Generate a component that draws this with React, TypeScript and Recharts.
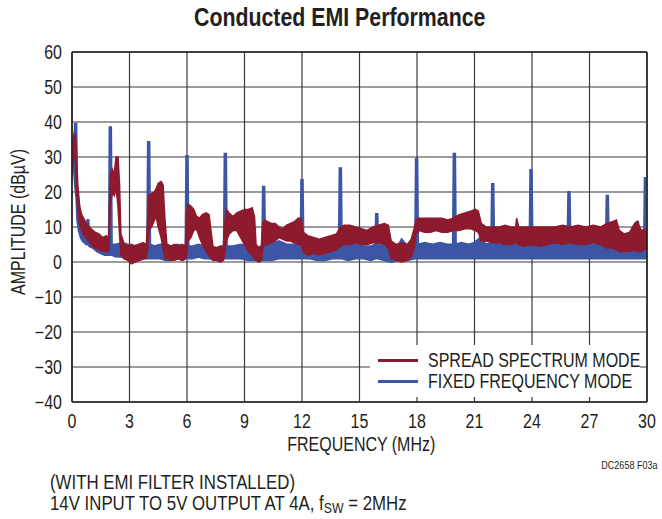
import React from 'react'
import {
  ComposedChart, Area, XAxis, YAxis, CartesianGrid, ReferenceLine,
} from 'recharts'

// no condensed face installed, so Liberation Sans gets squeezed horizontally
const FONT = "'Liberation Sans', Arial, sans-serif"
const SQUEEZE = 0.82
const INK = '#231f20'
const RED = '#8d1b2d'
const BLUE = '#3c56a5'
const FS = 19.5

const xTicks = [0, 3, 6, 9, 12, 15, 18, 21, 24, 27, 30]
const yTicks = [-40, -30, -20, -10, 0, 10, 20, 30, 40, 50, 60]

// spread spectrum mode: band envelope (low / high edge, dBµV) vs MHz
const spreadFreq = [
  0, 0.08, 0.15, 0.22, 0.3, 0.4, 0.5, 0.65, 0.8, 1.0, 1.2, 1.4, 1.6, 1.8, 1.92,
  2.0, 2.1, 2.2, 2.3, 2.4, 2.48, 2.55, 2.7, 2.9, 3.1, 3.3, 3.5, 3.7, 3.88,
  3.95, 4.0, 4.15, 4.3, 4.4, 4.5, 4.65, 4.75, 4.85, 4.95, 5.15, 5.35, 5.55, 5.75, 5.92,
  5.98, 6.05, 6.2, 6.35, 6.5, 6.65, 6.8, 7.0, 7.15, 7.25, 7.35, 7.55, 7.75, 7.9,
  7.95, 8.05, 8.2, 8.4, 8.6, 8.8, 9.0, 9.2, 9.4, 9.52, 9.6, 9.75, 9.88,
  9.95, 10.05, 10.2, 10.4, 10.6, 10.8, 11.0, 11.2, 11.4, 11.6, 11.8, 11.95,
  12.05, 12.3, 12.6, 12.9, 13.2, 13.5, 13.8, 14.0, 14.2, 14.5, 14.8, 15.1, 15.4,
  15.7, 16.0, 16.3, 16.5, 16.65, 16.9, 17.2, 17.5, 17.7, 17.85, 17.95, 18.1,
  18.4, 18.7, 19.0, 19.3, 19.6, 19.9, 20.2, 20.5, 20.8, 21.05, 21.2, 21.35,
  21.6, 22.0, 22.3, 22.6, 22.9, 23.15, 23.2, 23.3, 23.6, 24.0, 24.4, 24.8,
  25.2, 25.6, 26.0, 26.4, 26.8, 27.2, 27.6, 27.9, 28.2, 28.4, 28.55, 28.8,
  29.1, 29.35, 29.5, 29.7, 30,
]
const spreadLo = [
  24, 30, 32, 24, 15, 11, 9, 7.5, 6.5, 5, 4, 3.5, 3, 3, 3,
  16, 20, 19, 21, 16, 8, 2, 1, 0.5, -0.5, 0, 0.5, 1, 1,
  4, 9, 10, 12, 13, 10, 7, 4, 1, 1, 0.5, 0.5, 1, 0.5, 1,
  2, 6, 7, 9, 9.5, 7, 5, 3, 2, 1, 0.5, 0.5, 0, 0.5,
  2, 6, 8, 9, 9, 7, 5, 3, 2, 1, 0.5, 0, 0.5,
  4, 5, 5, 5.5, 6, 7, 6.5, 6, 6, 5.5, 5, 5,
  3, 2, 2.5, 2, 2.5, 3, 3.5, 4.5, 5, 5, 5.5, 5, 5,
  5.5, 5.5, 5, 4, 1, 0.5, 0, 0.5, 1.5, 4, 8, 9,
  8.5, 8.5, 9, 8.5, 8.5, 9, 9, 9.5, 9.5, 9, 8.5, 6,
  6, 5.5, 5.5, 5, 5, 5.5, 5.5, 5, 4.5, 5, 4.5, 5,
  5.5, 5, 5.5, 5, 5, 5.5, 5, 4, 4, 3.5, 3, 3,
  3, 3.5, 3, 3, 4,
]
const spreadHi = [
  30, 36, 37, 33, 22, 16, 13.5, 12, 10.5, 9.5, 8.5, 8, 7, 7.5, 6.5,
  25, 26.5, 25, 30, 30, 22, 8, 5.5, 4.5, 5, 4.5, 5, 5.5, 5,
  12, 19, 19.5, 20, 21, 22.5, 23, 22, 12, 5, 4.5, 5, 4.5, 5, 4.5,
  14, 16.5, 16, 15, 13, 12.5, 13.5, 14, 13.5, 9, 4.5, 4, 4.5, 4,
  10, 15, 14, 13, 14, 14.5, 15, 15, 15.5, 13, 5, 4, 4.5,
  11, 12, 11.5, 11, 11, 10, 9.5, 10.5, 11, 11.5, 12.5, 12.5,
  8.5, 7.5, 7, 6.5, 7, 7.5, 8, 10, 10.5, 10.5, 10, 9.5, 9,
  10, 10.5, 11, 10.5, 6, 5, 5.5, 5, 6.5, 9.5, 12, 12.5,
  12.5, 12.5, 12.5, 12.5, 12, 12.5, 13.5, 14, 14.5, 15, 14.5, 11,
  10, 10, 10, 10.5, 10, 10, 12.5, 10, 10, 10, 10, 10,
  10, 10.5, 10, 10.5, 10, 10.5, 10, 11, 11.5, 12, 9, 8,
  8.5, 11, 11.5, 9, 9.5,
]

// fixed frequency mode: noise floor band plus the 2MHz harmonic lines
const fixedFreq = [
  0, 0.1, 0.15, 0.23, 0.27, 0.35, 0.45, 0.55, 0.65, 0.75, 0.8, 0.86, 0.9,
  1.1, 1.3, 1.5, 1.7, 1.92, 1.96, 2.04, 2.08, 2.3, 2.6, 2.9, 3.2, 3.5, 3.8,
  3.92, 3.96, 4.04, 4.08, 4.3, 4.6, 4.9, 5.2, 5.5, 5.8,
  5.92, 5.96, 6.04, 6.08, 6.3, 6.6, 6.9, 7.2, 7.5, 7.8,
  7.92, 7.96, 8.04, 8.08, 8.4, 8.8, 9.2, 9.6,
  9.92, 9.96, 10.04, 10.08, 10.4, 10.8, 11.2, 11.6,
  11.92, 11.96, 12.04, 12.08, 12.4, 12.8, 13.2, 13.6,
  13.92, 13.96, 14.04, 14.08, 14.4, 14.8, 15.2, 15.6,
  15.82, 15.86, 15.94, 15.98, 16.3, 16.7, 17.0, 17.2, 17.5,
  17.9, 17.94, 18.02, 18.06, 18.4, 18.8, 19.2, 19.6,
  19.87, 19.91, 19.99, 20.03, 20.3, 20.7, 21.0, 21.3, 21.6,
  21.87, 21.91, 21.99, 22.03, 22.3, 22.7, 23.1, 23.5,
  23.87, 23.91, 23.99, 24.03, 24.3, 24.7, 25.1, 25.5,
  25.85, 25.89, 25.97, 26.01, 26.3, 26.7, 27.1, 27.5,
  27.85, 27.89, 27.97, 28.01, 28.3, 28.7, 29.1,
  29.42, 29.46, 29.54, 29.58, 29.84, 29.88, 29.96, 30,
]
const fixedLo = [
  26, 27, 22, 18, 12, 9, 7, 6, 5.5, 5, 5, 5, 4.5,
  4, 3, 2.5, 2, 2, 2, 2, 2, 1.5, 1.5, 1, 1, 0.5, 1,
  1, 1, 1, 1, 1, 1, 0.5, 0.5, 1, 0.5,
  1, 1, 1, 1, 1, 1.5, 1, 1, 0.5, 0.5,
  1, 1, 1, 1, 1, 1, 0.5, 0.5,
  0.5, 0.5, 0.5, 0.5, 0.5, 1, 1, 1,
  1, 1, 1, 1, 1, 0.5, 0.5, 1,
  1, 1, 1, 1, 0.5, 1, 1, 0.5,
  1, 1, 1, 1, 0.5, 0, 0.5, 0.5, 0.5,
  1, 1, 1, 1, 1, 1, 1, 1,
  1, 1, 1, 1, 1, 1, 1, 1, 1,
  1, 1, 1, 1, 1, 1, 1, 1,
  1, 1, 1, 1, 1, 1, 1, 1,
  1, 1, 1, 1, 1, 1, 1, 1,
  1, 1, 1, 1, 1, 1, 1,
  1, 1, 1, 1, 1, 1, 1, 1,
]
const fixedHi = [
  31, 33, 39.5, 39.5, 20, 15, 12, 10, 9.5, 10, 12, 12, 8,
  7.5, 6.5, 6, 5.5, 5, 38.5, 38.5, 5, 5, 5.5, 5, 4.5, 5, 5,
  5, 34.3, 34.3, 5, 4.5, 5, 5, 4.5, 5, 4.5,
  4.5, 30.3, 30.3, 4.5, 4.5, 5, 4.5, 4, 4, 4.5,
  4.5, 30.9, 30.9, 4.5, 4.5, 5, 4.5, 4,
  4.5, 21.5, 21.5, 4.5, 5, 6, 5, 5,
  5, 23.4, 23.4, 5, 4.5, 4, 4.5, 4.5,
  5, 26.8, 26.8, 5, 5, 5.5, 4.5, 4.5,
  5, 13.7, 13.7, 5, 4.5, 4, 4.5, 6.5, 4.5,
  5, 29.4, 29.4, 5, 5.5, 5, 5.5, 5,
  5, 30.9, 30.9, 5, 5.5, 5, 5.5, 7, 5,
  5.5, 22.3, 22.3, 5.5, 5, 5.5, 5, 5.5,
  5, 26.3, 26.3, 5, 5.5, 5, 5.5, 5,
  5.5, 20, 20, 5.5, 5, 5.5, 5, 5,
  5, 18.9, 18.9, 5, 5, 5, 5.5,
  5.5, 11.5, 11.5, 5.5, 5, 24, 24, 5,
]

const spreadData = spreadFreq.map((f, i) => ({ f, band: [spreadLo[i], spreadHi[i]] }))
const fixedData = fixedFreq.map((f, i) => ({ f, band: [fixedLo[i], fixedHi[i]] }))

const LEGEND = [
  { color: RED, label: 'SPREAD SPECTRUM MODE' },
  { color: BLUE, label: 'FIXED FREQUENCY MODE' },
]

const fmtY = (v: number) => (v < 0 ? '\u2212' + Math.abs(v) : String(v))

function XTick({ x, y, payload }: any) {
  return (
    <text transform={`translate(${x},${y}) scale(${SQUEEZE},1)`} textAnchor="middle" dy="0.71em"
      fontSize={FS} fill={INK} fontFamily={FONT}>{payload.value}</text>
  )
}

function YTick({ x, y, payload }: any) {
  return (
    <text transform={`translate(${x},${y}) scale(${SQUEEZE},1)`} textAnchor="end" dy="0.355em"
      fontSize={FS} fill={INK} fontFamily={FONT}>{fmtY(payload.value)}</text>
  )
}

// condensed html text
function Sq({ children, origin = 'left center' }: { children: React.ReactNode, origin?: string }) {
  return (
    <span style={{ display: 'inline-block', transform: `scaleX(${SQUEEZE})`, transformOrigin: origin, whiteSpace: 'nowrap' }}>
      {children}
    </span>
  )
}

export default function App() {
  return (
    <div style={{ position: 'absolute', left: 0, top: 0, width: 662, height: 519, background: '#fff', fontFamily: FONT, color: INK }}>
      <ComposedChart width={662} height={519} margin={{ top: 52, right: 15, bottom: 87, left: 12 }}>
        <CartesianGrid stroke="#3a3a3a" strokeWidth={1.2} />
        <XAxis
          type="number" dataKey="f" domain={[0, 30]} ticks={xTicks} interval={0}
          allowDataOverflow tickLine={false} axisLine={{ stroke: '#222', strokeWidth: 1.5 }}
          tick={<XTick />} tickMargin={6} height={30}
        />
        <YAxis
          type="number" domain={[-40, 60]} ticks={yTicks} interval={0}
          allowDataOverflow tickLine={false} axisLine={{ stroke: '#222', strokeWidth: 1.5 }}
          tick={<YTick />} tickMargin={4} width={60}
        />
        <ReferenceLine y={60} stroke="#222" strokeWidth={1.5} />
        <ReferenceLine x={30} stroke="#222" strokeWidth={1.5} />
        {/* fixed frequency underneath */}
        <Area
          data={fixedData} dataKey="band" type="linear"
          stroke={BLUE} strokeWidth={2} fill={BLUE} fillOpacity={1}
          dot={false} activeDot={false} isAnimationActive={false}
        />
        {/* spread spectrum on top */}
        <Area
          data={spreadData} dataKey="band" type="linear"
          stroke={RED} strokeWidth={1.6} fill={RED} fillOpacity={1}
          dot={false} activeDot={false} isAnimationActive={false}
        />
      </ComposedChart>

      <div style={{ position: 'absolute', left: 0, width: 662, top: 2, textAlign: 'center', fontSize: 26, fontWeight: 700, lineHeight: '30px', paddingLeft: 18, boxSizing: 'border-box' }}>
        <Sq origin="center center">Conducted EMI Performance</Sq>
      </div>

      {/* y axis title */}
      <div style={{ position: 'absolute', left: 18, top: 222, width: 0, height: 0 }}>
        <div style={{ position: 'absolute', transform: `translate(-50%, -50%) rotate(-90deg) scaleX(${SQUEEZE})`, whiteSpace: 'nowrap', fontSize: FS, lineHeight: '22px' }}>
          AMPLITUDE (dBµV)
        </div>
      </div>

      <div style={{ position: 'absolute', left: 0, width: 662, top: 433, textAlign: 'center', fontSize: FS, lineHeight: '22px', paddingLeft: 60, boxSizing: 'border-box' }}>
        <Sq origin="center center">FREQUENCY (MHz)</Sq>
      </div>

      {/* legend box */}
      <div style={{ position: 'absolute', left: 370, top: 345, width: 270, height: 52, background: '#fff' }}>
        {LEGEND.map((d, i) => (
          <div key={d.label} style={{ position: 'absolute', left: 8, top: 4 + i * 21, height: 22, display: 'flex', alignItems: 'center' }}>
            <div style={{ width: 40, height: 3, background: d.color }} />
            <span style={{ marginLeft: 10, fontSize: FS, lineHeight: '22px' }}><Sq>{d.label}</Sq></span>
          </div>
        ))}
      </div>

      <div style={{ position: 'absolute', right: 5, top: 459, fontSize: 11, lineHeight: '13px' }}>
        <Sq origin="right center">DC2658 F03a</Sq>
      </div>

      <div style={{ position: 'absolute', left: 50, top: 471, fontSize: 20.5, lineHeight: '21px' }}>
        <div><Sq>(WITH EMI FILTER INSTALLED)</Sq></div>
        <div>
          <Sq>14V INPUT TO 5V OUTPUT AT 4A, f<sub style={{ fontSize: 15, verticalAlign: '-3px', lineHeight: 0 }}>SW</sub> = 2MHz</Sq>
        </div>
      </div>
    </div>
  )
}
